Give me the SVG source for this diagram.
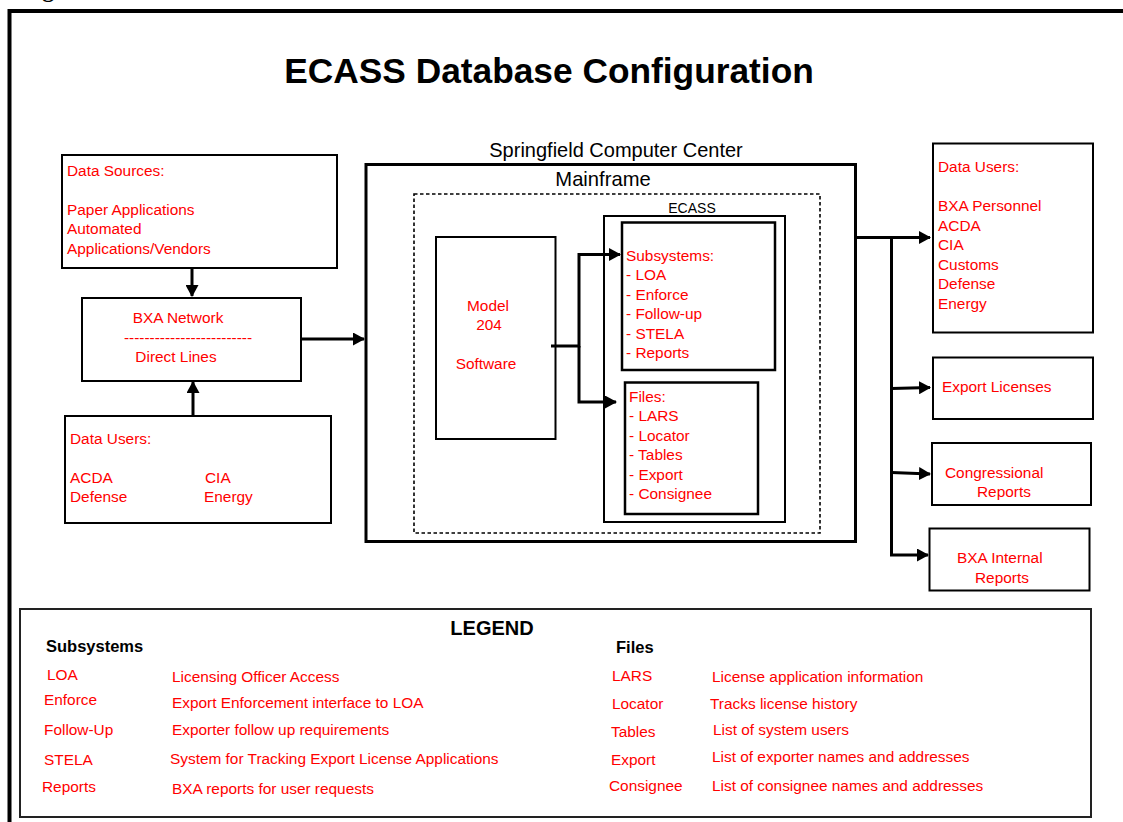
<svg xmlns="http://www.w3.org/2000/svg" width="1123" height="822" viewBox="0 0 1123 822">
<defs>
<style>
.box{fill:#fff;stroke:#000;stroke-width:2}
.thick{fill:none;stroke:#000;stroke-width:3}
.dash{fill:none;stroke:#000;stroke-width:1.6;stroke-dasharray:3.5 2.5}
.red{font-family:"Liberation Sans",Arial,sans-serif;font-size:15.4px;fill:#f00}
.blk{font-family:"Liberation Sans",Arial,sans-serif;fill:#000}
.con{fill:none;stroke:#000;stroke-width:3}
.mid{text-anchor:middle}
</style>
<marker id="ah" markerWidth="12" markerHeight="13" refX="11" refY="6.5" orient="auto" markerUnits="userSpaceOnUse">
<path d="M0,0 L12,6.5 L0,13 Z" fill="#000"/>
</marker>
</defs>
<rect width="1123" height="822" fill="#fff"/>
<text x="21" y="-3" style="font-family:'Liberation Serif',serif;font-size:24px;font-weight:bold" fill="#000">Fig</text>
<path d="M9.5,822 V11 H1123" fill="none" stroke="#000" stroke-width="4"/>
<text x="549" y="83" class="blk mid" style="font-size:35.3px;font-weight:bold">ECASS Database Configuration</text>

<g id="data-sources">
<rect class="box" x="62" y="155" width="275" height="113"/>
<text class="red" x="67" y="176">Data Sources:</text>
<text class="red" x="67" y="215">Paper Applications</text>
<text class="red" x="67" y="234">Automated</text>
<text class="red" x="67" y="254">Applications/Vendors</text>
</g>

<g id="bxa-network">
<rect class="box" x="82" y="298" width="219" height="83"/>
<text class="red mid" x="178" y="323">BXA Network</text>
<text class="red mid" x="188" y="343">-------------------------</text>
<text class="red mid" x="176" y="362">Direct Lines</text>
</g>

<g id="data-users-left">
<rect class="box" x="65" y="416" width="266" height="107"/>
<text class="red" x="70" y="444">Data Users:</text>
<text class="red" x="70" y="483">ACDA</text>
<text class="red" x="70" y="502">Defense</text>
<text class="red" x="205" y="483">CIA</text>
<text class="red" x="204" y="502">Energy</text>
</g>

<g id="springfield">
<text class="blk mid" x="616" y="157" style="font-size:20px">Springfield Computer Center</text>
<rect class="thick" x="366" y="164.5" width="489.5" height="377"/>
<text class="blk mid" x="603" y="186" style="font-size:20.2px">Mainframe</text>
<rect class="dash" x="414" y="194" width="406" height="339"/>
</g>

<g id="model-204">
<rect class="box" x="436" y="237" width="119.5" height="202"/>
<text class="red mid" x="488" y="311">Model</text>
<text class="red mid" x="489" y="330">204</text>
<text class="red mid" x="486" y="369">Software</text>
</g>

<g id="ecass">
<text class="blk mid" x="692" y="213" style="font-size:14px">ECASS</text>
<rect class="box" x="604" y="216" width="181" height="306"/>
</g>

<g id="subsystems">
<rect class="box" x="622" y="222.5" width="153" height="147.5" style="stroke-width:2.5"/>
<text class="red" x="626" y="261">Subsystems:</text>
<text class="red" x="626" y="280">- LOA</text>
<text class="red" x="626" y="300">- Enforce</text>
<text class="red" x="626" y="319">- Follow-up</text>
<text class="red" x="626" y="338.5">- STELA</text>
<text class="red" x="626" y="358">- Reports</text>
</g>

<g id="files">
<rect class="box" x="625" y="382.5" width="133" height="131.5" style="stroke-width:2.5"/>
<text class="red" x="629" y="402">Files:</text>
<text class="red" x="629" y="421">- LARS</text>
<text class="red" x="629" y="441">- Locator</text>
<text class="red" x="629" y="460">- Tables</text>
<text class="red" x="629" y="479.5">- Export</text>
<text class="red" x="629" y="499">- Consignee</text>
</g>

<g id="data-users-right">
<rect class="box" x="933" y="143.5" width="160" height="189"/>
<text class="red" x="938" y="172">Data Users:</text>
<text class="red" x="938" y="211">BXA Personnel</text>
<text class="red" x="938" y="230.5">ACDA</text>
<text class="red" x="938" y="250">CIA</text>
<text class="red" x="938" y="269.5">Customs</text>
<text class="red" x="938" y="289">Defense</text>
<text class="red" x="938" y="308.5">Energy</text>
</g>

<g id="export-licenses">
<rect class="box" x="933" y="357.5" width="160" height="61.5"/>
<text class="red" x="942" y="392">Export Licenses</text>
</g>

<g id="congressional-reports">
<rect class="box" x="932" y="443" width="159" height="62"/>
<text class="red" x="945" y="477.5">Congressional</text>
<text class="red" x="977" y="497">Reports</text>
</g>

<g id="bxa-internal-reports">
<rect class="box" x="929.5" y="528.5" width="160" height="62"/>
<text class="red" x="957" y="562.5">BXA Internal</text>
<text class="red" x="975" y="582.5">Reports</text>
</g>

<g id="connectors">
<path class="con" d="M192,268 V296" marker-end="url(#ah)"/>
<path class="con" d="M193,416 V382" marker-end="url(#ah)"/>
<path class="con" d="M301,339 H364" marker-end="url(#ah)"/>
<path class="con" d="M551,346 H579 V254.5 H620" marker-end="url(#ah)"/>
<path class="con" d="M579,346 V402 H616" marker-end="url(#ah)"/>
<path class="con" d="M855,237.5 H930" marker-end="url(#ah)"/>
<path class="con" d="M891.5,237.5 V555 H928" marker-end="url(#ah)"/>
<path class="con" d="M891.5,388.5 L930,387.5" marker-end="url(#ah)"/>
<path class="con" d="M891.5,472.5 L930,474" marker-end="url(#ah)"/>
</g>

<g id="legend">
<rect x="20" y="609" width="1071" height="208" fill="#fff" stroke="#222" stroke-width="2"/>
<text class="blk mid" x="492" y="635" style="font-size:20px;font-weight:bold">LEGEND</text>
<text class="blk" x="46" y="652" style="font-size:16.5px;font-weight:bold">Subsystems</text>
<text class="blk" x="616" y="653" style="font-size:16.5px;font-weight:bold">Files</text>
<text class="red" x="47" y="680">LOA</text>
<text class="red" x="172" y="682">Licensing Officer Access</text>
<text class="red" x="44" y="705">Enforce</text>
<text class="red" x="172" y="708">Export Enforcement interface to LOA</text>
<text class="red" x="44" y="735">Follow-Up</text>
<text class="red" x="172" y="735">Exporter follow up requirements</text>
<text class="red" x="44" y="765">STELA</text>
<text class="red" x="170" y="764">System for Tracking Export License Applications</text>
<text class="red" x="42" y="792">Reports</text>
<text class="red" x="172" y="794">BXA reports for user requests</text>
<text class="red" x="612" y="681">LARS</text>
<text class="red" x="712" y="682">License application information</text>
<text class="red" x="612" y="709">Locator</text>
<text class="red" x="710" y="709">Tracks license history</text>
<text class="red" x="611" y="737">Tables</text>
<text class="red" x="713" y="735">List of system users</text>
<text class="red" x="611" y="765">Export</text>
<text class="red" x="712" y="762">List of exporter names and addresses</text>
<text class="red" x="609" y="791">Consignee</text>
<text class="red" x="712" y="791">List of consignee names and addresses</text>
</g>
</svg>
